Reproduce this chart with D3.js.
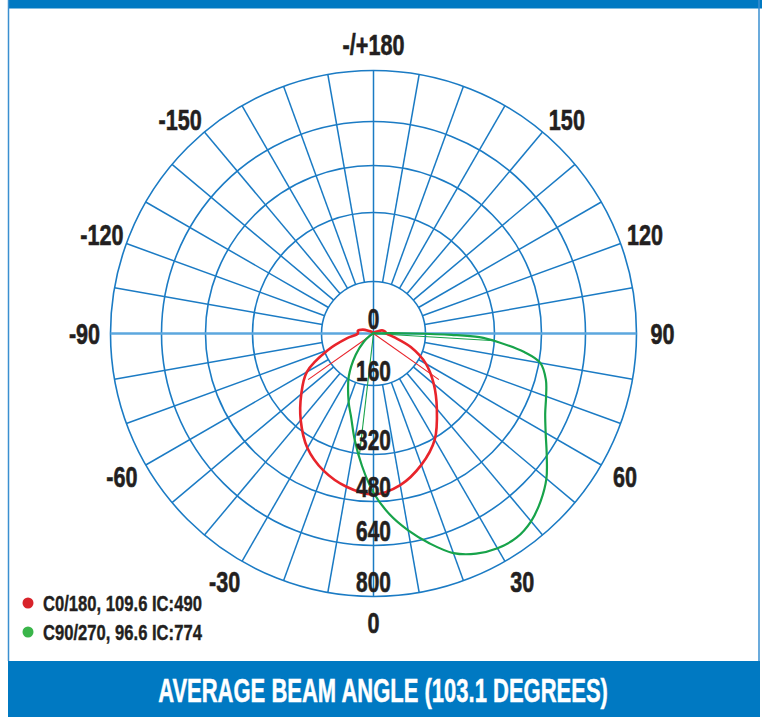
<!DOCTYPE html>
<html><head><meta charset="utf-8">
<script src="https://cdn.jsdelivr.net/npm/d3@7"></script>
<style>html,body{margin:0;padding:0;background:#fff;} svg{display:block}</style>
</head><body><svg id="c" width="762" height="717"></svg>
<script>
// ---------- DATA ----------
const ringValues = [160, 320, 480, 640, 800];
const ringLabels = [0, 160, 320, 480, 640, 800];
const angleTicks = [-150, -120, -90, -60, -30, 0, 30, 60, 90, 120, 150, 180];
const angleTickLabels = ["-150", "-120", "-90", "-60", "-30", "0", "30", "60", "90", "120", "150", "-/+180"];
const spokeAngles = [-170,-160,-150,-140,-130,-120,-110,-100,-80,-70,-60,-50,-40,-30,-20,-10,10,20,30,40,50,60,70,80,100,110,120,130,140,150,160,170];

// C0/180 (red)
const c0Angles = [-180,-170,-160,-150,-140,-130,-120,-110,-100,-90,-80,-70,-60,-50,-40,-30,-20,-10,0,10,20,30,40,50,60,70,80,90,100,110,120,130,140,150,160,170];
const c0Values = [1,1,2,3,5,8,15,35,49,48,82,150,218,258,302,358,405,438,456,432,384,325,268,222,180,122,64,40,36,28,12,7,4,3,2,1];

// C90/270 (green)
const c90Angles = [-180,-150,-120,-90,-70,-60,-50,-40,-30,-20,-15,-10,-5,0,5,10,15,20,25,30,35,40,45,50,55,60,65,70,75,80,83,86,88,89,90,91,93,100,120,150];
const c90Values = [0,1,2,3,5,12,38,85,152,208,240,290,360,450,528,596,657,708,737,753,757,744,717,683,638,592,558,537,518,485,425,335,285,220,120,50,12,4,2,1];

// beam-angle markers
const c0BeamAngles = [-54.8, 54.8];
const c0BeamValue = 225;
const c90BeamAngles = [-6.6, 86.6];
const c90BeamValue = 322;

const legendLabels = ["C0/180, 109.6 IC:490", "C90/270, 96.6 IC:774"];
const legendColors = ["#d8232a", "#3ab54a"];
const seriesColors = ["#e8242b", "#17a34a"];
const titleText = "AVERAGE BEAM ANGLE (103.1 DEGREES)";

// ---------- LAYOUT ----------
const cx = 373.5, cy = 333.5;
const gridBlue = "#1b7bc4";
const FONT = "'Liberation Sans',Arial,sans-serif";
const TXT = "#231f20";

const svg = d3.select("#c");

const rScale = d3.scaleLinear().domain([0,160,320,480,640,800]).range([0,52,121,168,212,263]);
const aScale = d3.scaleLinear().domain([-180,180]).range([2*Math.PI, 0]);
const labelAngle = d3.scaleLinear().domain([0,30,90,120,150,180]).range([0,31,90,110,138,180]);
const rad = d => d*Math.PI/180;
const pos = (deg, r) => [cx + r*Math.sin(rad(deg)), cy + r*Math.cos(rad(deg))];

// frame
svg.append("rect").attr("x",8).attr("y",0).attr("width",754).attr("height",8.5).attr("fill","#0079c2");
svg.append("rect").attr("x",8).attr("y",661).attr("width",752).attr("height",56).attr("fill","#0079c2");
svg.append("line").attr("x1",8.5).attr("x2",8.5).attr("y1",0).attr("y2",661).attr("stroke","#3a8fd0").attr("stroke-width",1.5);
svg.append("line").attr("x1",759).attr("x2",759).attr("y1",0).attr("y2",661).attr("stroke","#3a8fd0").attr("stroke-width",1.5);

const g = svg.append("g").attr("transform",`translate(${cx},${cy})`);

// rings
g.selectAll("circle.ring").data(ringValues).join("circle")
  .attr("class","ring").attr("r",d=>rScale(d))
  .attr("fill","none").attr("stroke",gridBlue).attr("stroke-width",1.6);

// spokes
const rIn = rScale(ringValues[0]), rOut = rScale(ringValues[ringValues.length-1]);
g.selectAll("line.spoke").data(spokeAngles).join("line")
  .attr("class","spoke")
  .attr("x1",d=>rIn*Math.sin(rad(d))).attr("y1",d=>rIn*Math.cos(rad(d)))
  .attr("x2",d=>rOut*Math.sin(rad(d))).attr("y2",d=>rOut*Math.cos(rad(d)))
  .attr("stroke",gridBlue).attr("stroke-width",1.5);
// vertical axis
g.append("line").attr("x1",0).attr("x2",0).attr("y1",-rOut).attr("y2",rOut)
  .attr("stroke",gridBlue).attr("stroke-width",1.5);
// horizontal axis
g.append("line").attr("x1",-rOut).attr("x2",rOut).attr("y1",0).attr("y2",0)
  .attr("stroke","#5ca7de").attr("stroke-width",2.6);

// curves
const line = d3.lineRadial()
  .angle(d=>aScale(d.a)).radius(d=>rScale(d.v))
  .curve(d3.curveCatmullRomClosed.alpha(0.5));
const series = [
  c0Angles.map((a,i)=>({a, v:c0Values[i]})),
  c90Angles.map((a,i)=>({a, v:c90Values[i]}))
];
const beams = [
  {angles:c0BeamAngles, v:c0BeamValue, color:seriesColors[0]},
  {angles:c90BeamAngles, v:c90BeamValue, color:seriesColors[1]}
];
beams.forEach(b=>{
  b.angles.forEach(a=>{
    const r = rScale(b.v);
    g.append("line").attr("x1",0).attr("y1",0)
      .attr("x2",r*Math.sin(rad(a))).attr("y2",r*Math.cos(rad(a)))
      .attr("stroke",b.color).attr("stroke-width",1.1);
  });
});
g.selectAll("path.curve").data(series).join("path")
  .attr("class","curve").attr("d",line).attr("fill","none")
  .attr("stroke",(d,i)=>seriesColors[i]).attr("stroke-width",(d,i)=>i===0?2.6:2.2)
  .attr("stroke-linejoin","round");

// text helper: centered at (x,y) vertically by cap height
function label(x, y, text, size, sx){
  const gg = svg.append("g").attr("transform",`translate(${x},${y}) scale(${sx},1)`);
  gg.append("text").text(text).attr("x",0).attr("y",size*0.36)
    .attr("text-anchor","middle").attr("font-family",FONT).attr("font-weight","bold")
    .attr("font-size",size).attr("fill",TXT)
    .attr("stroke",TXT).attr("stroke-width",0.6);
}

// angle labels
angleTicks.forEach((t,i)=>{
  const la = Math.sign(t)*labelAngle(Math.abs(t));
  const [x,y] = pos(la, 289);
  label(x, y, angleTickLabels[i], 30, 0.72);
});
// ring labels
ringLabels.forEach(v=>{
  label(cx, cy + rScale(v) - 15, String(v), 29, 0.72);
});

// legend
legendLabels.forEach((t,i)=>{
  const y = 603 + i*29;
  svg.append("circle").attr("cx",28).attr("cy",y).attr("r",5.5).attr("fill",legendColors[i]);
  const gg = svg.append("g").attr("transform",`translate(43,${y+8})`);
  const tx = gg.append("text").text(t).attr("x",0).attr("y",0)
    .attr("font-family",FONT).attr("font-weight","bold").attr("font-size",22)
    .attr("fill",TXT).attr("stroke",TXT).attr("stroke-width",0.4);
  const len = tx.node().getComputedTextLength();
  gg.attr("transform",`translate(43,${y+8}) scale(${159/len},1)`);
});

// title
{
  const gg = svg.append("g").attr("transform",`translate(383,702)`);
  const tx = gg.append("text").text(titleText).attr("x",0).attr("y",0)
    .attr("text-anchor","middle").attr("font-family",FONT).attr("font-weight","bold")
    .attr("font-size",33).attr("fill","#fff").attr("stroke","#fff").attr("stroke-width",0.5);
  const len = tx.node().getComputedTextLength();
  gg.attr("transform",`translate(383,702) scale(${450/len},1)`);
}
</script></body></html>
